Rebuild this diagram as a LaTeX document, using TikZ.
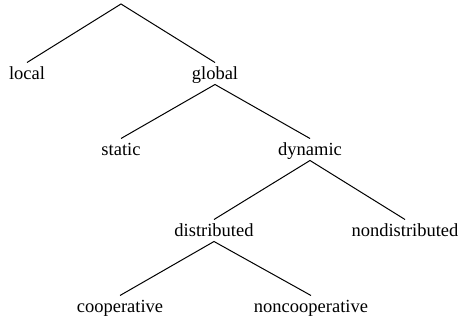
\documentclass[tikz,border=0pt]{standalone}
\usepackage{fontspec}
\setmainfont{Liberation Serif}

\tikzset{
  leaf/.style = {anchor = base, inner sep = 0pt, inner ysep = 4pt,
                 text height = 13pt, text depth = 0pt,
                 font = \fontsize{18.5}{22}\selectfont},
}

\begin{document}
\begin{tikzpicture}[x = 1pt, y = -1pt, line width = 1pt]
    \useasboundingbox (0, 0) rectangle (458, 320);

    \coordinate (root) at (121, 4);

    \node [leaf] (local)   at (27, 80)   {local};
    \node [leaf] (global)  at (215, 80)  {global};
    \node [leaf] (static)  at (121, 156) {static};
    \node [leaf] (dynamic) at (310, 156) {dynamic};
    \node [leaf] (distributed)    at (214, 237) {distributed};
    \node [leaf] (nondistributed) at (405, 237) {nondistributed};
    \node [leaf] (cooperative)    at (120, 313) {cooperative};
    \node [leaf] (noncooperative) at (311, 313) {noncooperative};

    \draw (local.north) -- (root) -- (global.north);
    \draw (static.north) -- (global.south) -- (dynamic.north);
    \draw (distributed.north) -- (dynamic.south) -- (nondistributed.north);
    \draw (cooperative.north) -- (distributed.south) -- (noncooperative.north);
\end{tikzpicture}
\end{document}
